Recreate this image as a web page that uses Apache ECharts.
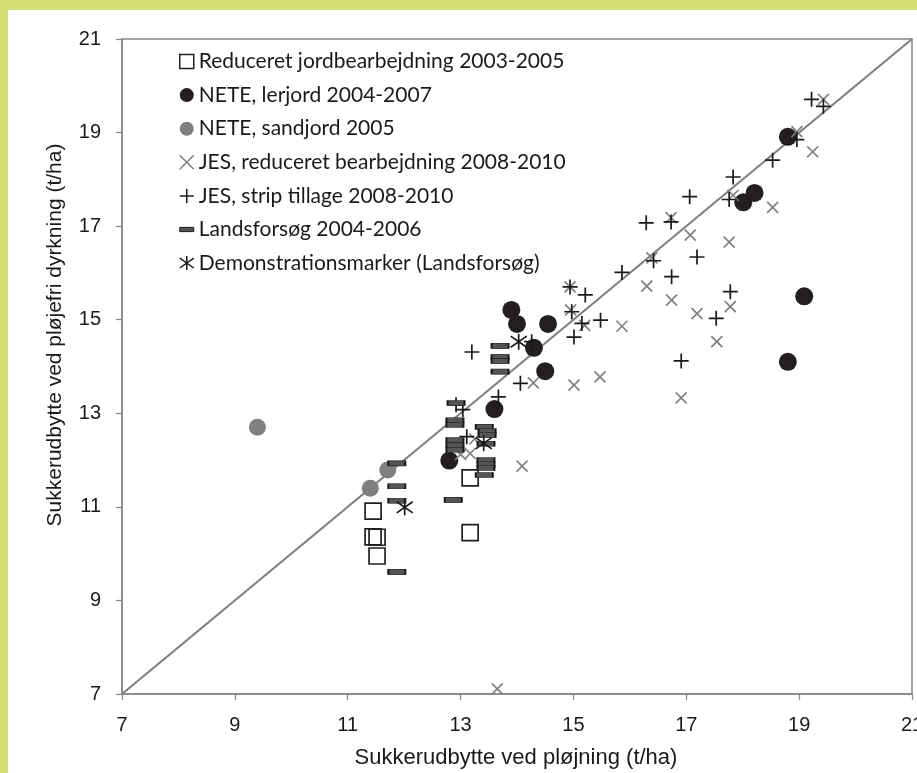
<!DOCTYPE html>
<html>
<head>
<meta charset="utf-8">
<script src="https://cdn.jsdelivr.net/npm/echarts@6/dist/echarts.min.js"></script>
<style>
html,body{margin:0;padding:0;}
#c{width:917px;height:773px;
background:linear-gradient(#d2df70,#d2df70) 0 0/100% 10px no-repeat,linear-gradient(#d2df70,#d2df70) 0 0/8px 100% no-repeat,#fff;}
</style>
</head>
<body>
<div id="c"></div>
<script>
const axisTicks = [7, 9, 11, 13, 15, 17, 19, 21];
const seriesNames = [
  'Reduceret jordbearbejdning 2003-2005',
  'NETE, lerjord 2004-2007',
  'NETE, sandjord 2005',
  'JES, reduceret bearbejdning 2008-2010',
  'JES, strip tillage 2008-2010',
  'Landsforsøg 2004-2006',
  'Demonstrationsmarker (Landsforsøg)'
];
const reduceret = [[11.45,10.91],[11.45,10.36],[11.52,10.35],[11.52,9.95],[13.17,11.62],[13.17,10.45]];
const neteLer = [[13.90,15.21],[14.00,14.91],[14.55,14.91],[14.30,14.40],[14.50,13.90],[13.60,13.09],[12.80,11.99],
  [18.80,18.91],[18.21,17.71],[18.01,17.51],[19.09,15.50],[18.80,14.10]];
const neteSand = [[9.40,12.70],[11.40,11.40],[11.71,11.79]];
const jesRed = [[16.30,15.72],[16.74,15.42],[17.19,15.13],[17.78,15.28],[17.54,14.53],[15.86,14.86],[15.47,13.78],
  [15.01,13.60],[16.91,13.33],[15.20,14.88],[14.95,15.21],[14.94,15.70],[16.39,16.32],[16.73,17.18],[17.07,16.81],
  [17.76,16.66],[17.83,17.66],[18.53,17.40],[19.24,18.59],[18.96,19.02],[19.43,19.71],[14.29,13.65],
  [14.09,11.87],[13.00,12.12],[13.17,12.14],[13.25,12.45],[13.65,7.11]];
const jesStrip = [[15.86,16.01],[16.42,16.26],[17.19,16.34],[16.74,15.92],[17.78,15.60],[17.53,15.03],[16.91,14.12],
  [14.94,15.70],[15.21,15.53],[14.97,15.17],[15.15,14.92],[15.48,14.99],[15.01,14.63],[19.22,19.71],[19.43,19.56],
  [18.96,18.85],[18.53,18.41],[17.83,18.05],[17.76,17.57],[16.29,17.07],[16.73,17.09],[17.06,17.63],
  [13.20,14.31],[14.06,13.64],[13.67,13.35],[12.92,13.18],[13.04,13.08],[13.11,12.50],[14.26,14.53]];
const landsforsog = [[13.70,14.44],[13.70,14.20],[13.70,14.12],[13.70,13.89],[12.92,13.22],[12.90,12.85],[12.90,12.75],
  [12.90,12.43],[12.90,12.32],[12.90,12.22],[13.42,12.71],[13.47,12.62],[13.47,12.53],[13.45,12.35],[13.45,12.00],
  [13.45,11.91],[13.45,11.83],[13.42,11.68],[11.87,11.93],[11.87,11.44],[11.87,11.13],[11.87,9.61],[12.87,11.15]];
const demo = [[12.01,10.99],[13.41,12.36],[14.03,14.53]];
const oneToOne = [[7,7],[21,21]];

const X_PATH = 'path://M0,0L10,10M10,0L0,10';
const PLUS_PATH = 'path://M5,0L5,10M0,5L10,5';
const STAR_PATH = 'path://M0,1.5L10,8.5M10,1.5L0,8.5M5,0L5,10';

const chart = echarts.init(document.getElementById('c'), null, {renderer: 'canvas'});
function axisCommon(margin) {
  return {
    type: 'value',
    min: axisTicks[0],
    max: axisTicks[axisTicks.length - 1],
    interval: axisTicks[1] - axisTicks[0],
    axisLine: {show: true, lineStyle: {color: '#878787', width: 1.5}},
    axisTick: {show: true, inside: false, length: 6, lineStyle: {color: '#878787', width: 1.2}},
    splitLine: {show: false},
    axisLabel: {color: '#1a1a1a', fontFamily: 'Liberation Sans', fontSize: 20, margin: margin}
  };
}
chart.setOption({
  animation: false,
  backgroundColor: 'transparent',
  grid: {left: 122, right: 5, top: 39, bottom: 79, show: true, borderColor: '#878787', borderWidth: 1.5,
    backgroundColor: 'transparent', outerBoundsMode: 'none', containLabel: false},
  xAxis: axisCommon(21),
  yAxis: axisCommon(21),
  graphic: [
    {type: 'text', x: 516, y: 758, style: {text: 'Sukkerudbytte ved pløjning (t/ha)', fontFamily: 'Liberation Sans', fontSize: 22, fill: '#1a1a1a', align: 'center', verticalAlign: 'middle'}},
    {type: 'text', x: 55, y: 335, rotation: Math.PI / 2, style: {text: 'Sukkerudbytte ved pløjefri dyrkning (t/ha)', fontFamily: 'Liberation Sans', fontSize: 21, fill: '#1a1a1a', align: 'center', verticalAlign: 'middle'}}
  ],
  legend: {
    orient: 'vertical', left: 179, top: 51, padding: 0, itemWidth: 14, itemHeight: 14, itemGap: 12.6,
    textStyle: {fontFamily: 'Lato', fontSize: 21, color: '#1a1a1a'},
    data: [
      {name: seriesNames[0], icon: 'rect', itemStyle: {color: '#fff', borderColor: '#222', borderWidth: 1.5}},
      {name: seriesNames[1], icon: 'circle', itemStyle: {color: '#231f20'}},
      {name: seriesNames[2], icon: 'circle', itemStyle: {color: '#808080'}},
      {name: seriesNames[3], icon: X_PATH, itemStyle: {color: 'transparent', borderColor: '#808080', borderWidth: 1.5}},
      {name: seriesNames[4], icon: PLUS_PATH, itemStyle: {color: 'transparent', borderColor: '#1a1a1a', borderWidth: 1.5}},
      {name: seriesNames[5], icon: 'path://M0,0h30v9h-30z', itemStyle: {color: '#555', borderColor: '#1a1a1a', borderWidth: 1}},
      {name: seriesNames[6], icon: STAR_PATH, itemStyle: {color: 'transparent', borderColor: '#1a1a1a', borderWidth: 1.5}}
    ]
  },
  series: [
    {type: 'line', data: oneToOne, symbol: 'none', silent: true, lineStyle: {color: '#808080', width: 2.2}, z: 1},
    {name: seriesNames[0], type: 'scatter', data: reduceret, symbol: 'rect', symbolSize: 16,
      itemStyle: {color: 'rgba(255,255,255,0)', borderColor: '#231f20', borderWidth: 1.7, opacity: 1}, z: 2},
    {name: seriesNames[1], type: 'scatter', data: neteLer, symbol: 'circle', symbolSize: 18,
      itemStyle: {color: '#231f20', opacity: 1}, z: 2},
    {name: seriesNames[2], type: 'scatter', data: neteSand, symbol: 'circle', symbolSize: 17,
      itemStyle: {color: '#808080', opacity: 1}, z: 2},
    {name: seriesNames[3], type: 'scatter', data: jesRed, symbol: X_PATH, symbolSize: 11,
      itemStyle: {color: 'rgba(0,0,0,0)', borderColor: '#808080', borderWidth: 1.7, opacity: 1}, z: 3},
    {name: seriesNames[4], type: 'scatter', data: jesStrip, symbol: PLUS_PATH, symbolSize: 15,
      itemStyle: {color: 'rgba(0,0,0,0)', borderColor: '#1a1a1a', borderWidth: 1.7, opacity: 1}, z: 3},
    {name: seriesNames[5], type: 'scatter', data: landsforsog, symbol: 'rect', symbolSize: [17, 5],
      itemStyle: {color: '#555', borderColor: '#1a1a1a', borderWidth: 1.1, opacity: 1}, z: 4},
    {name: seriesNames[6], type: 'scatter', data: demo, symbol: STAR_PATH, symbolSize: 16,
      itemStyle: {color: 'rgba(0,0,0,0)', borderColor: '#1a1a1a', borderWidth: 1.7, opacity: 1}, z: 5}
  ]
});
</script>
</body>
</html>
